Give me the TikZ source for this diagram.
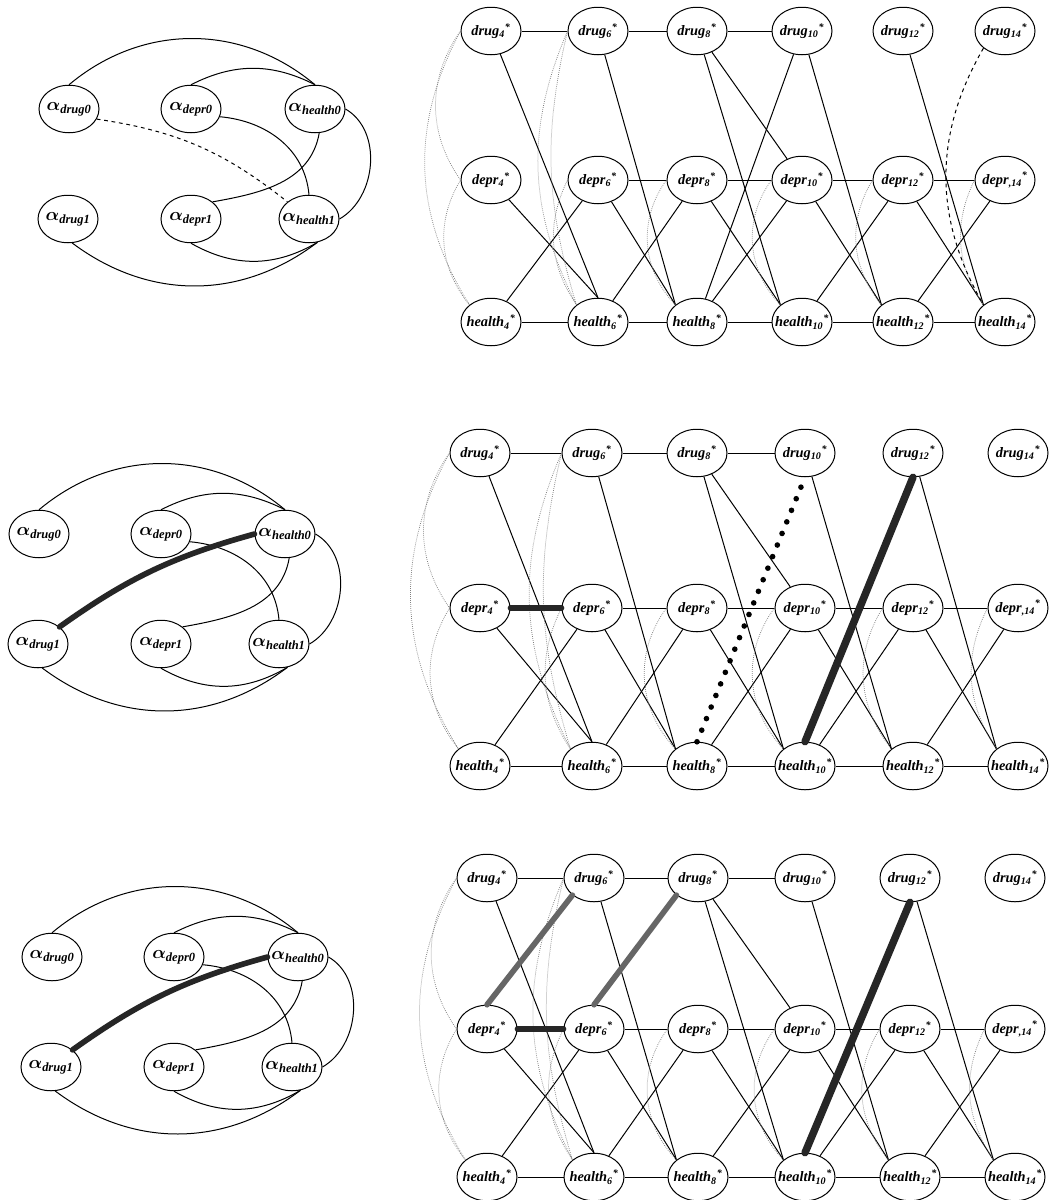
\documentclass[tikz,border=0pt]{standalone}
\usepackage{fontspec}
\setmainfont{Liberation Serif}
\usetikzlibrary{shapes.geometric}

\tikzset{
  var/.style={draw,ellipse,line width=0.8pt,minimum width=48pt,minimum height=38pt,
    inner sep=0pt,font=\fontsize{11.5}{14}\selectfont\bfseries\itshape},
  alphanode/.style={draw,ellipse,line width=0.8pt,minimum width=48pt,minimum height=38pt,
    inner sep=0pt,font=\Large\bfseries\boldmath},
  link/.style={line width=0.8pt},
  contemp/.style={gray,densely dotted,line width=0.6pt},
  strong/.style={line width=4.5pt,line cap=round,black!85},
  stronggray/.style={line width=4.5pt,line cap=round,black!60},
  bigdots/.style={line width=4.5pt,line cap=round,dash pattern=on 0pt off 10pt}
}

\begin{document}
\begin{tikzpicture}[x=0.8pt,y=-0.8pt]
\fill[white] (0,0) rectangle (1050,1200);
\useasboundingbox (0,0) rectangle (1050,1200);

% alpha graphs (left)
\foreach \pn/\ox/\oy in {a/69/109, b/39/534, c/52/957}{
  \node[alphanode] (\pn-adrug0) at (\ox,\oy)
    {\makebox[0pt]{$\alpha$\textsubscript{\textit{drug0}}}};
  \node[alphanode] (\pn-adepr0) at (\ox+122,\oy)
    {\makebox[0pt]{$\alpha$\textsubscript{\textit{depr0}}}};
  \node[alphanode] (\pn-ahealth0) at (\ox+246,\oy)
    {\makebox[0pt]{$\alpha$\textsubscript{\textit{health0}}}};
  \node[alphanode] (\pn-adrug1) at (\ox-1,\oy+110)
    {\makebox[0pt]{$\alpha$\textsubscript{\textit{drug1}}}};
  \node[alphanode] (\pn-adepr1) at (\ox+122,\oy+110)
    {\makebox[0pt]{$\alpha$\textsubscript{\textit{depr1}}}};
  \node[alphanode] (\pn-ahealth1) at (\ox+240,\oy+110)
    {\makebox[0pt]{$\alpha$\textsubscript{\textit{health1}}}};

  \draw[link] (\pn-adrug0.north) to[bend left=40] (\pn-ahealth0.north);
  \draw[link] (\pn-adepr0.north) to[bend left=27] (\pn-ahealth0.north);
  \draw[link] (\pn-adepr0.-15) to[out=-5,in=95] (\pn-ahealth1.north);
  \draw[link] (\pn-ahealth0.-80) to[out=-100,in=10] (\pn-adepr1.north east);
  \draw[link] (\pn-ahealth0.east) to[out=-30,in=30] (\pn-ahealth1.east);
  \draw[link] (\pn-adepr1.south) to[bend right=30] (\pn-ahealth1.-70);
  \draw[link] (\pn-adrug1.-80) to[bend right=37] (\pn-ahealth1.-70);
}
\draw[link,dashed] (a-adrug0.-20) to[bend left=15] (a-ahealth1.north west);
\draw[strong] (b-adrug1.north east) to[bend left=10] (b-ahealth0.west);
\draw[strong] (c-adrug1.north east) to[bend left=10] (c-ahealth0.west);

% time-slice graphs (right)
\foreach \pn/\ya/\yb/\yc/\xa/\xb/\xc/\xd/\xe/\xf in
  {a/31/180/322/491/598/697/802/903/1005,
   b/453/608/766/480/592/697/805/913/1018,
   c/878/1029/1177/487/594/698/805/910/1015}{
  \foreach \tm/\xx/\sb in {4/\xa/4,6/\xb/6,8/\xc/8,10/\xd/10,12/\xe/12,14/\xf/{,14}}{
    \node[var] (\pn-drug\tm) at (\xx,\ya)
      {\makebox[0pt]{drug\textsubscript{\tm}\textsuperscript{*}}};
    \node[var] (\pn-depr\tm) at (\xx,\yb)
      {\makebox[0pt]{depr\textsubscript{\sb}\textsuperscript{*}}};
    \node[var] (\pn-health\tm) at (\xx,\yc)
      {\makebox[0pt]{health\textsubscript{\tm}\textsuperscript{*}}};
  }
  \draw[link] (\pn-drug4) -- (\pn-drug6) -- (\pn-drug8) -- (\pn-drug10);
  \draw[link] (\pn-depr6) -- (\pn-depr8) -- (\pn-depr10) -- (\pn-depr12) -- (\pn-depr14);
  \draw[link] (\pn-health4) -- (\pn-health6) -- (\pn-health8) -- (\pn-health10)
    -- (\pn-health12) -- (\pn-health14);
  \draw[link] (\pn-drug4) -- (\pn-health6.north);
  \draw[link] (\pn-depr4) -- (\pn-health6.north);
  \draw[link] (\pn-health4) -- (\pn-depr6);
  \draw[link] (\pn-drug6) -- (\pn-health8.north west);
  \draw[link] (\pn-depr6) -- (\pn-health8.north west);
  \draw[link] (\pn-health6) -- (\pn-depr8);
  \draw[link] (\pn-drug8) -- (\pn-depr10);
  \draw[link] (\pn-drug8) -- (\pn-health10.north west);
  \draw[link] (\pn-depr8) -- (\pn-health10.north west);
  \draw[link] (\pn-health8) -- (\pn-depr10);
  \draw[link] (\pn-drug10) -- (\pn-health12.north west);
  \draw[link] (\pn-depr10) -- (\pn-health12.north west);
  \draw[link] (\pn-health10) -- (\pn-depr12);
  \draw[link] (\pn-drug12) -- (\pn-health14.north west);
  \draw[link] (\pn-depr12) -- (\pn-health14.north west);
  \draw[link] (\pn-health12) -- (\pn-depr14);
  % same-slice links
  \draw[contemp] (\pn-drug4.west) to[bend right=35] (\pn-depr4.west);
  \draw[contemp] (\pn-depr4.west) to[bend right=35] (\pn-health4.north west);
  \draw[contemp] (\pn-drug4.west) to[bend right=30] (\pn-health4.north west);
  \draw[contemp] (\pn-drug6.west) to[bend right=25] (\pn-health6.north west);
  \draw[contemp] (\pn-drug6.west) to[bend right=15] (\pn-health6.north west);
  \draw[contemp] (\pn-depr6.west) to[bend right=30] (\pn-health6.north west);
  \draw[contemp] (\pn-depr8.west) to[bend right=40] (\pn-health8.north west);
  \draw[contemp] (\pn-depr10.west) to[bend right=40] (\pn-health10.north west);
  \draw[contemp] (\pn-depr12.west) to[bend right=35] (\pn-health12.north west);
  \draw[contemp] (\pn-depr14.west) to[bend right=30] (\pn-health14.north west);
}

% top
\draw[link] (a-health8) -- (a-drug10);
\draw[link,dashed] (a-drug14.south west) to[bend right=30] (a-health14.north west);
% middle
\draw[strong] (b-depr4) -- (b-depr6);
\draw[bigdots] (b-health8.north) -- (b-drug10.south);
\draw[strong,line width=6pt] (b-health10.north) -- (b-drug12.south);
% bottom
\draw[strong] (c-depr4) -- (c-depr6);
\draw[strong,line width=6pt] (c-health10.north) -- (c-drug12.south);
\draw[stronggray] (c-depr4.north) -- (c-drug6.south west);
\draw[stronggray] (c-depr6.north) -- (c-drug8.south west);
\end{tikzpicture}
\end{document}
